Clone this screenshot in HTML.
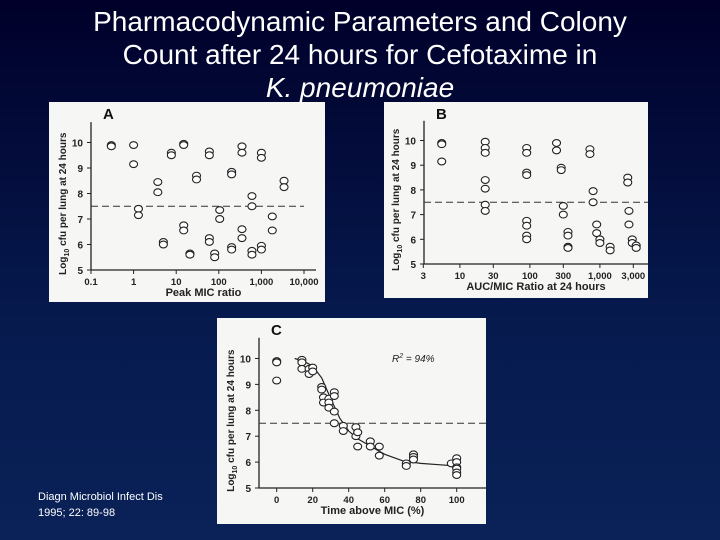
<!DOCTYPE html>
<html><head><meta charset="utf-8"><style>
html,body{margin:0;padding:0}
body{width:720px;height:540px;overflow:hidden;background:linear-gradient(#00002a,#061a4e 60%,#0a2258);font-family:"Liberation Sans",sans-serif;position:relative}
.t{position:absolute;left:0;width:720px;text-align:center;color:#fff;font-size:28px;line-height:33px}
.cite{position:absolute;left:38px;top:489px;color:#fff;font-size:11px;line-height:16px}
svg{position:absolute;left:0;top:0}
</style></head><body>
<div class="t" style="top:5px">Pharmacodynamic Parameters and Colony<br>Count after 24 hours for Cefotaxime in<br><i>K. pneumoniae</i></div>
<div class="cite">Diagn Microbiol Infect Dis<br>1995; 22: 89-98</div>
<svg id="s" width="720" height="540"></svg>
<script>
const aX=[0.3,0.3,1,1,1.3,1.3,3.7,3.7,5,5,7.7,7.7,15,15,15,15,21,21,30,30,60,60,60,60,80,80,105,105,200,200,200,200,350,350,350,350,600,600,600,600,1000,1000,1000,1000,1800,1800,3400,3400];
const aY=[9.9,9.85,9.9,9.15,7.4,7.15,8.45,8.05,6.1,6.0,9.6,9.5,9.95,9.9,6.75,6.55,5.65,5.6,8.7,8.55,9.65,9.5,6.25,6.1,5.65,5.5,7.35,7.0,8.85,8.75,5.9,5.8,9.85,9.6,6.6,6.25,7.9,7.5,5.75,5.6,9.6,9.4,5.95,5.8,7.1,6.55,8.5,8.25];
const bX=[5.5,5.5,5.5,23,23,23,23,23,23,23,90,90,90,90,90,90,90,90,240,240,280,280,300,300,350,350,350,350,720,720,800,800,900,900,1000,1000,1400,1400,2500,2500,2600,2600,2900,2900,3300,3300];
const bY=[9.9,9.85,9.15,9.95,9.7,9.5,8.4,8.05,7.4,7.15,9.7,9.5,8.7,8.6,6.75,6.55,6.15,6.0,9.9,9.6,8.9,8.8,7.35,7.0,6.3,6.15,5.7,5.65,9.65,9.45,7.95,7.5,6.6,6.25,6.0,5.85,5.7,5.55,8.5,8.3,7.15,6.6,6.0,5.85,5.75,5.65];
const cX=[0,0,0,14,14,14,18,18,20,20,25,25,26,26,29,29,29,32,32,32,32,37,37,44,44,45,45,52,52,57,57,72,72,76,76,76,97,100,100,100,100,100,100];
const cY=[9.9,9.85,9.15,9.95,9.85,9.6,9.6,9.4,9.65,9.5,8.9,8.8,8.5,8.3,8.45,8.3,8.1,8.7,8.55,7.95,7.5,7.4,7.2,7.35,7.0,7.15,6.6,6.8,6.6,6.6,6.25,5.95,5.85,6.3,6.2,6.1,5.95,6.15,6.0,5.8,5.75,5.6,5.5];
const fitX=[10,15,20,25,30,35,40,45,50,60,70,80,90,100];
const fitY=[10.0,9.9,9.7,9.25,8.45,7.7,7.2,6.9,6.7,6.3,6.05,5.95,5.9,5.85];
const yTicks=[5,6,7,8,9,10];
const aTicks=[0.1,1,10,100,1000,10000], aLab=['0.1','1','10','100','1,000','10,000'];
const bTicks=[3,10,30,100,300,1000,3000], bLab=['3','10','30','100','300','1,000','3,000'];
const cTicks=[0,20,40,60,80,100];
const S=document.getElementById('s'),NS='http://www.w3.org/2000/svg';
function el(t,a,p){const e=document.createElementNS(NS,t);for(const k in a)e.setAttribute(k,a[k]);(p||S).appendChild(e);return e;}
function panel(o){
 const g=el('g',{});
 
 
 const r=el('rect',{x:o.bx,y:o.by,width:o.bw,height:o.bh,fill:'#f6f6f4'},g);
 
 const X=o.x,Y=v=>o.y0-(v-5)*o.yu;
 el('line',{x1:o.ax,y1:Y(10.8),x2:o.ax,y2:o.y0,stroke:'#222','stroke-width':1.3},g);
 el('line',{x1:o.ax,y1:o.y0,x2:o.xend,y2:o.y0,stroke:'#222','stroke-width':1.3},g);
 yTicks.forEach(v=>{el('line',{x1:o.ax-4,y1:Y(v),x2:o.ax,y2:Y(v),stroke:'#222'},g);
  const t=el('text',{x:o.ax-8,y:Y(v)+4,'text-anchor':'end','font-size':10,'font-weight':'bold',fill:'#222'},g);t.textContent=v;});
 o.xt.forEach((v,i)=>{el('line',{x1:X(v),y1:o.y0,x2:X(v),y2:o.y0+4,stroke:'#222'},g);
  const t=el('text',{x:X(v),y:o.y0+15,'text-anchor':'middle','font-size':9.5,'font-weight':'bold',fill:'#222'},g);t.textContent=o.xl[i];});
 const xt=el('text',{x:(o.ax+o.xend)/2,y:o.y0+26,'text-anchor':'middle','font-size':11,'font-weight':'bold',fill:'#222'},g);xt.textContent=o.xtitle;
 
 const yt=el('text',{x:0,y:0,'text-anchor':'middle','font-size':10,'font-weight':'bold',fill:'#222',transform:`translate(${o.ax-25},${Y(7.6)}) rotate(-90)`},g);
 yt.innerHTML='Log<tspan font-size="7" dy="3">10</tspan><tspan dy="-3"> cfu per lung at 24 hours</tspan>';
 
 const L=el('text',{x:o.ax+12,y:o.by+17,'font-size':15,'font-weight':'bold',fill:'#111'},g);L.textContent=o.letter;
 el('line',{x1:o.ax,y1:Y(7.5),x2:o.dend,y2:Y(7.5),stroke:'#333','stroke-dasharray':'7,4'},g);
 if(o.fx){let d='';o.fx.forEach((v,i)=>d+=(i?'L':'M')+X(v)+','+Y(o.fy[i]));
  const p=el('path',{d:d,fill:'none',stroke:'#222','stroke-width':1.2},g);}
 o.px.forEach((v,i)=>{const c=el('ellipse',{cx:X(v),cy:Y(o.py[i]),rx:4,ry:3.4,fill:'#fff',stroke:'#222','stroke-width':1.1},g);
  });
 return {g,X,Y};
}
panel({name:'panel-a-peak-mic',bx:49,by:102,bw:276,bh:200,ax:91,y0:270,yu:25.5,xend:316,dend:304,
 x:v=>91+(Math.log10(v)+1)*42.6,xt:aTicks,xl:aLab,xtitle:'Peak MIC ratio',letter:'A',px:aX,py:aY});
panel({name:'panel-b-auc-mic',bx:384,by:102,bw:264,bh:196,ax:424,y0:264,yu:24.7,xend:648,dend:648,
 x:v=>423.3+(Math.log10(v)-Math.log10(3))*70,xt:bTicks,xl:bLab,xtitle:'AUC/MIC Ratio at 24 hours',letter:'B',px:bX,py:bY});
const pc=panel({name:'panel-c-time-above-mic',bx:217,by:318,bw:269,bh:206,ax:259,y0:488,yu:25.9,xend:486,dend:486,
 x:v=>276.7+v*1.8,xt:cTicks,xl:cTicks.map(String),xtitle:'Time above MIC (%)',letter:'C',px:cX,py:cY,fx:fitX,fy:fitY});
const r2=el('text',{x:392,y:362,'font-size':10,'font-style':'italic',fill:'#222'},pc.g);
r2.innerHTML='R<tspan font-size="7" dy="-4">2</tspan><tspan dy="4"> = 94%</tspan>';

</script>
</body></html>
